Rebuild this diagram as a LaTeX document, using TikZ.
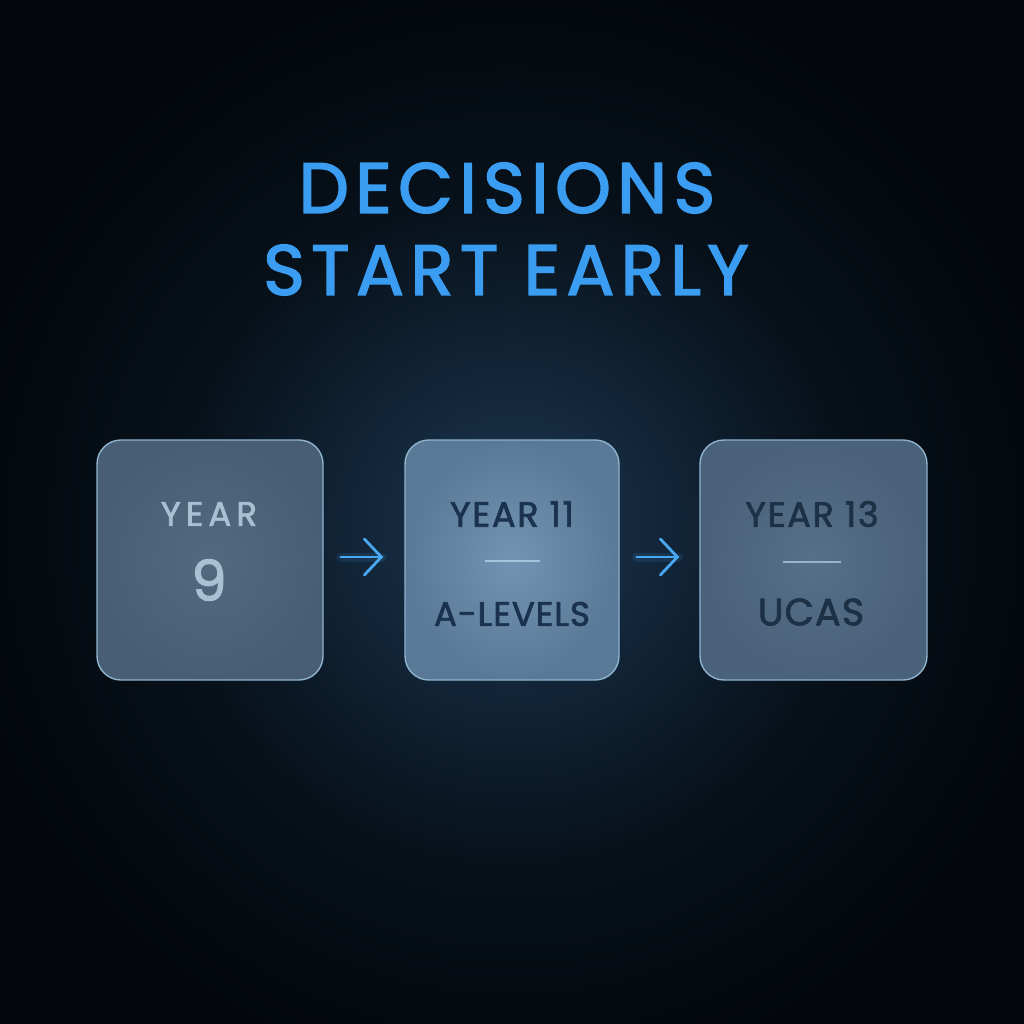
\documentclass[tikz,border=0pt]{standalone}
\usepackage{fontspec}
\setmainfont{Poppins}
\newfontfamily\titlefont{Poppins}[LetterSpace=9,FakeBold=2.2]
\newfontfamily\boxfont{Poppins}[LetterSpace=5,FakeBold=2]
\newfontfamily\boxfontmid{Poppins}[LetterSpace=3,FakeBold=2]
\newfontfamily\boxfontwide{Poppins}[LetterSpace=15,FakeBold=2]
\usetikzlibrary{arrows.meta}
\definecolor{bgdark}{HTML}{03070B}
\definecolor{glowA}{HTML}{1D3850}
\definecolor{glowB}{HTML}{122538}
\definecolor{glowC}{HTML}{07111A}
\definecolor{titleblue}{HTML}{3A9DF2}
\definecolor{arrowblue}{HTML}{48A8F2}
\definecolor{boxedge}{HTML}{8FB3CF}
\definecolor{lighttxt}{HTML}{A9BFD2}
\definecolor{darktxtA}{HTML}{1A324D}
\definecolor{darktxtB}{HTML}{1C3146}
\definecolor{ruleA}{HTML}{A8C4DC}
\definecolor{ruleB}{HTML}{94B4D0}
\pgfdeclareradialshading{glow}{\pgfpoint{0bp}{0bp}}{color(0bp)=(glowA); color(7bp)=(glowB); color(15bp)=(glowC); color(25bp)=(bgdark); color(50bp)=(bgdark)}
\tikzset{
  card/.style={draw=boxedge, line width=1.4pt, rounded corners=24pt,
    minimum width=#1, minimum height=240pt, inner sep=0pt},
  flow/.style={draw=arrowblue, line width=2.8pt, line cap=round,
    -{Straight Barb[length=17pt,width=36pt,line cap=round]}},
  flowglow/.style={draw=arrowblue, line width=9pt, line cap=round, opacity=0.12},
  dash rule/.style={line width=2.4pt},
}
\begin{document}
\begin{tikzpicture}[x=1pt,y=-1pt]
\fill[bgdark] (0,0) rectangle (1024,1024);
\useasboundingbox (0,0) rectangle (1024,1024);
\shade[shading=glow] (512,530) circle (560);
% title
\node[text=titleblue, font=\titlefont\fontsize{71}{71}\selectfont, inner sep=0pt] (t1) at (507,188) {DECISIONS};
\node[text=titleblue, font=\titlefont\fontsize{71}{71}\selectfont, inner sep=0pt] (t2) at (506,270) {START EARLY};
% cards
\node[card=226pt, shade, inner color={rgb,255:red,82;green,105;blue,127}, outer color={rgb,255:red,72;green,94;blue,116}] (b1) at (210,560) {};
\node[card=214pt, shade, inner color={rgb,255:red,114;green,148;blue,178}, outer color={rgb,255:red,90;green,121;blue,150}] (b2) at (512,560) {};
\node[card=227pt, shade, inner color={rgb,255:red,86;green,112;blue,137}, outer color={rgb,255:red,73;green,97;blue,121}] (b3) at (813.5,560) {};
% card texts
\node[text=lighttxt, font=\boxfontwide\fontsize{34}{34}\selectfont, inner sep=0pt] (y9a) at (209,514) {YEAR};
\node[text=lighttxt, font=\boxfont\fontsize{56}{56}\selectfont, inner sep=0pt] (y9b) at (209,580) {9};
\node[text=darktxtA, font=\boxfont\fontsize{35}{35}\selectfont, inner sep=0pt] (y11) at (512,514) {YEAR 11};
\coordinate (r2a) at (485,561);
\coordinate (r2b) at (540,561);
\draw[draw=ruleA, dash rule] (r2a) -- (r2b);
\node[text=darktxtA, font=\boxfontmid\fontsize{34}{34}\selectfont, inner sep=0pt] (alv) at (512,614) {A-LEVELS};
\node[text=darktxtB, font=\boxfont\fontsize{35}{35}\selectfont, inner sep=0pt] (y13) at (812,514) {YEAR 13};
\coordinate (r3a) at (783,562);
\coordinate (r3b) at (841,562);
\draw[draw=ruleB, dash rule] (r3a) -- (r3b);
\node[text=darktxtB, font=\boxfontmid\fontsize{38}{38}\selectfont, inner sep=0pt] (ucas) at (811,612) {UCAS};
% arrows
\draw[flowglow, shorten <=17pt, shorten >=22pt] (b1.east |- 0,557) -- (b2.west |- 0,557);
\draw[flowglow, shorten <=17pt, shorten >=21pt] (b2.east |- 0,557) -- (b3.west |- 0,557);
\draw[flow, shorten <=17pt, shorten >=21pt] (b1.east |- 0,557) -- (b2.west |- 0,557);
\draw[flow, shorten <=17pt, shorten >=20pt] (b2.east |- 0,557) -- (b3.west |- 0,557);
\end{tikzpicture}
\end{document}
